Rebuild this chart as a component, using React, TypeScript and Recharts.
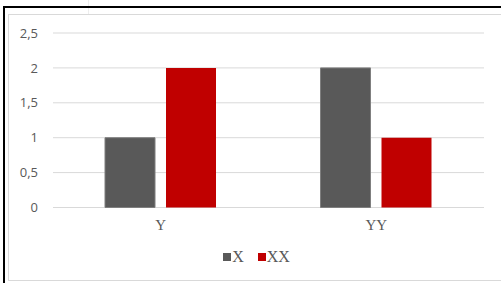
import React from 'react';
import { BarChart, Bar, XAxis, YAxis, CartesianGrid, Legend } from 'recharts';

const categories = ['Y', 'YY'];
const seriesX = [1, 2];
const seriesXX = [2, 1];
const yTicks = [0, 0.5, 1, 1.5, 2, 2.5];
const seriesNames = ['X', 'XX'];
const seriesColors = ['#595959', '#C00000'];

const data = categories.map((c, i) => ({ name: c, X: seriesX[i], XX: seriesXX[i] }));

const LegendContent = (props: any) => {
  const payload = props.payload || [];
  return (
    <div style={{ display: 'flex', justifyContent: 'center', alignItems: 'center', paddingLeft: 12 }}>
      {payload.map((p: any, i: number) => (
        <div key={i} style={{ display: 'flex', alignItems: 'center', marginRight: i < payload.length - 1 ? 14 : 0 }}>
          <span style={{ display: 'inline-block', width: 8, height: 8, background: p.color, marginRight: 1 }} />
          <span style={{ fontFamily: '"Liberation Serif", serif', fontSize: 16, color: '#595959', lineHeight: '16px' }}>{p.value}</span>
        </div>
      ))}
    </div>
  );
};

export default function App() {
  return (
    <div style={{ position: 'absolute', left: 0, top: 0, width: 501, height: 283, background: '#fff', overflow: 'hidden' }}>
      <div style={{ position: 'absolute', left: 88, top: 0, width: 1, height: 14, background: '#eeeeee' }} />
      <div style={{ position: 'absolute', left: 3, top: 6, width: 498, height: 283, borderLeft: '2px solid #000', borderTop: '2px solid #000', boxSizing: 'border-box' }} />
      <div style={{ position: 'absolute', left: 8, top: 14, width: 500, height: 267, borderLeft: '1px solid #d9d9d9', borderTop: '1px solid #d9d9d9', borderBottom: '1px solid #d9d9d9', boxSizing: 'border-box' }} />
      <div style={{ position: 'absolute', left: 0, top: 0 }}>
        <BarChart width={501} height={283} data={data} margin={{ top: 33, right: 17, left: 8, bottom: 45.5 }} barSize={50} barGap={11}>
          <CartesianGrid vertical={false} stroke="#d9d9d9" strokeWidth={1} />
          <XAxis dataKey="name" axisLine={false} tickLine={false} height={30} tickMargin={6}
            tick={{ fill: '#595959', fontSize: 15, fontFamily: '"Liberation Serif", serif' }} />
          <YAxis domain={[0, 2.5]} ticks={yTicks} width={45} axisLine={false} tickLine={false} tickMargin={9}
            tickFormatter={(v: number) => String(v).replace('.', ',')}
            tick={{ fill: '#595959', fontSize: 13, fontFamily: '"Open Sans", sans-serif' }} />
          <Legend layout="horizontal" verticalAlign="middle" align="center" content={<LegendContent />}
            wrapperStyle={{ top: 249, left: 0, width: 501, height: 16 }} />
          <Bar dataKey="X" name={seriesNames[0]} fill={seriesColors[0]} stroke="#7f7f7f" strokeWidth={1} isAnimationActive={false} />
          <Bar dataKey="XX" name={seriesNames[1]} fill={seriesColors[1]} isAnimationActive={false} />
        </BarChart>
      </div>
    </div>
  );
}
